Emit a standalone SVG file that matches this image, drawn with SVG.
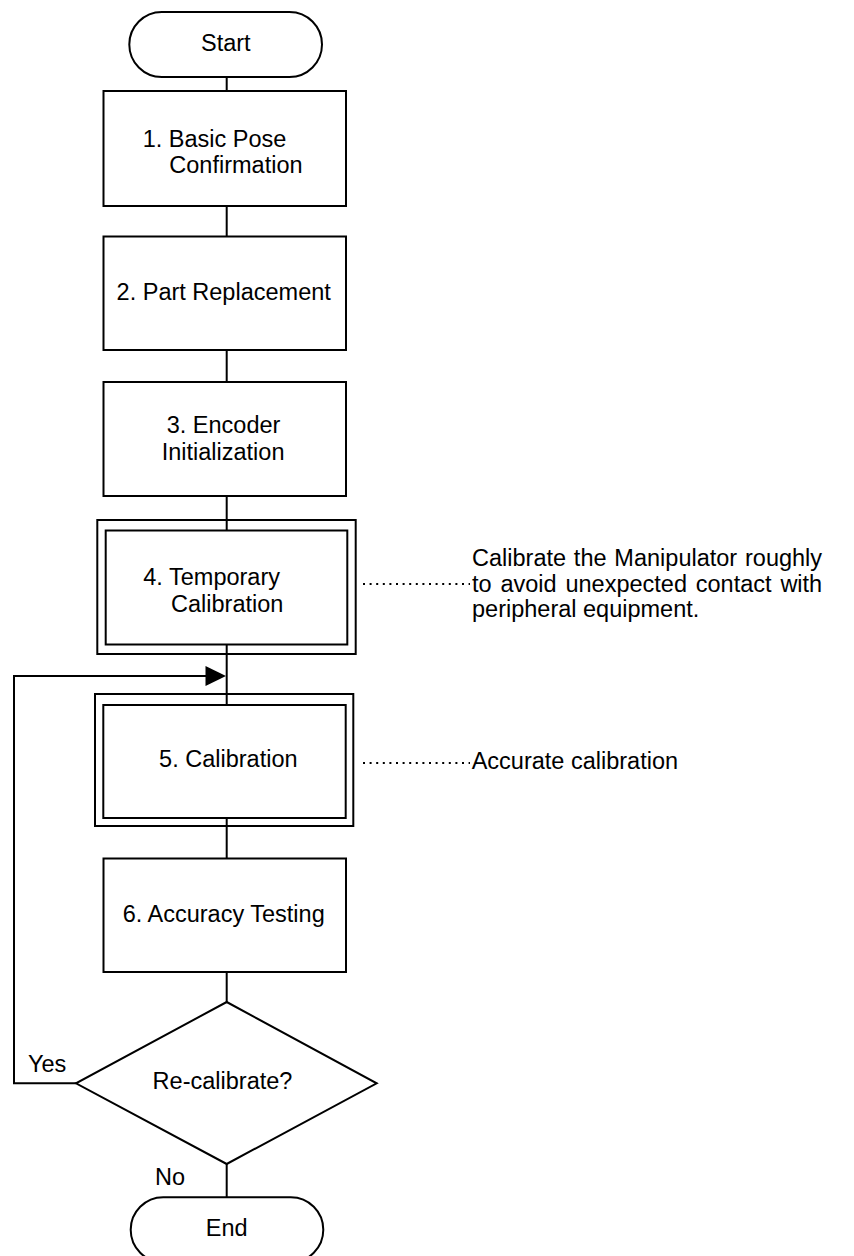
<svg xmlns="http://www.w3.org/2000/svg" width="854" height="1256" viewBox="0 0 854 1256">
<style>
.s{fill:#fff;stroke:#000;stroke-width:2}
.t{font-family:"Liberation Sans",Arial,sans-serif;font-size:23.5px;fill:#000}
.m{text-anchor:middle}
.c{fill:none;stroke:#000;stroke-width:2}
.d{fill:none;stroke:#000;stroke-width:2;stroke-dasharray:2 4.6}
</style>
<rect width="854" height="1256" fill="#fff"/>
<g id="connectors">
<line class="c" x1="226.7" y1="77" x2="226.7" y2="1198"/>
<polyline class="c" points="76,1083.3 14,1083.3 14,676 207,676"/>
<polygon points="205.5,666 226,676 205.5,686" fill="#000"/>
<line class="d" x1="363" y1="584" x2="470" y2="584"/>
<line class="d" x1="363" y1="763" x2="470" y2="763"/>
</g>
<g id="start">
<rect class="s" x="129.3" y="12" width="192.7" height="65" rx="32.5" ry="32.5"/>
<text class="t m" x="225.8" y="50.7">Start</text>
</g>
<g id="step1">
<rect class="s" x="103.5" y="91" width="242.5" height="115"/>
<text class="t" x="142.7" y="146.7">1. Basic Pose</text>
<text class="t" x="169.3" y="172.5">Confirmation</text>
</g>
<g id="step2">
<rect class="s" x="103.5" y="236.5" width="242.5" height="113.5"/>
<text class="t m" x="223.7" y="300">2. Part Replacement</text>
</g>
<g id="step3">
<rect class="s" x="103.5" y="382" width="242.5" height="114"/>
<text class="t" x="166.7" y="433.3">3. Encoder</text>
<text class="t" x="161.7" y="460">Initialization</text>
</g>
<g id="step4">
<rect class="s" x="97.3" y="520" width="258.4" height="134"/>
<rect class="s" x="105.7" y="530.5" width="241.6" height="114"/>
<line class="c" x1="226.7" y1="520" x2="226.7" y2="530.5"/>
<line class="c" x1="226.7" y1="644.5" x2="226.7" y2="654"/>
<text class="t" x="143.3" y="585">4. Temporary</text>
<text class="t" x="171" y="611.7">Calibration</text>
</g>
<g id="note4">
<text class="t" x="472" y="566" word-spacing="1.3">Calibrate the Manipulator roughly</text>
<text class="t" x="472" y="592" word-spacing="2.3">to avoid unexpected contact with</text>
<text class="t" x="472" y="617">peripheral equipment.</text>
</g>
<g id="step5">
<rect class="s" x="95" y="694" width="258.3" height="132"/>
<rect class="s" x="103.3" y="705" width="242.4" height="113"/>
<line class="c" x1="226.7" y1="694" x2="226.7" y2="705"/>
<line class="c" x1="226.7" y1="818" x2="226.7" y2="826"/>
<text class="t m" x="228.3" y="766.7">5. Calibration</text>
</g>
<g id="note5">
<text class="t" x="471.7" y="769">Accurate calibration</text>
</g>
<g id="step6">
<rect class="s" x="103.5" y="858.5" width="242.5" height="113.5"/>
<text class="t m" x="223.7" y="921.7">6. Accuracy Testing</text>
</g>
<g id="decision">
<polygon class="s" points="226.7,1002 376.7,1083.3 226.7,1164 76,1083.3"/>
<text class="t m" x="222.5" y="1089.3">Re-calibrate?</text>
<text class="t" x="28" y="1071.7">Yes</text>
<text class="t" x="155" y="1185">No</text>
</g>
<g id="end">
<rect class="s" x="130.7" y="1197.3" width="192.6" height="65" rx="32.5" ry="32.5"/>
<text class="t m" x="226.7" y="1235.5">End</text>
</g>
</svg>
